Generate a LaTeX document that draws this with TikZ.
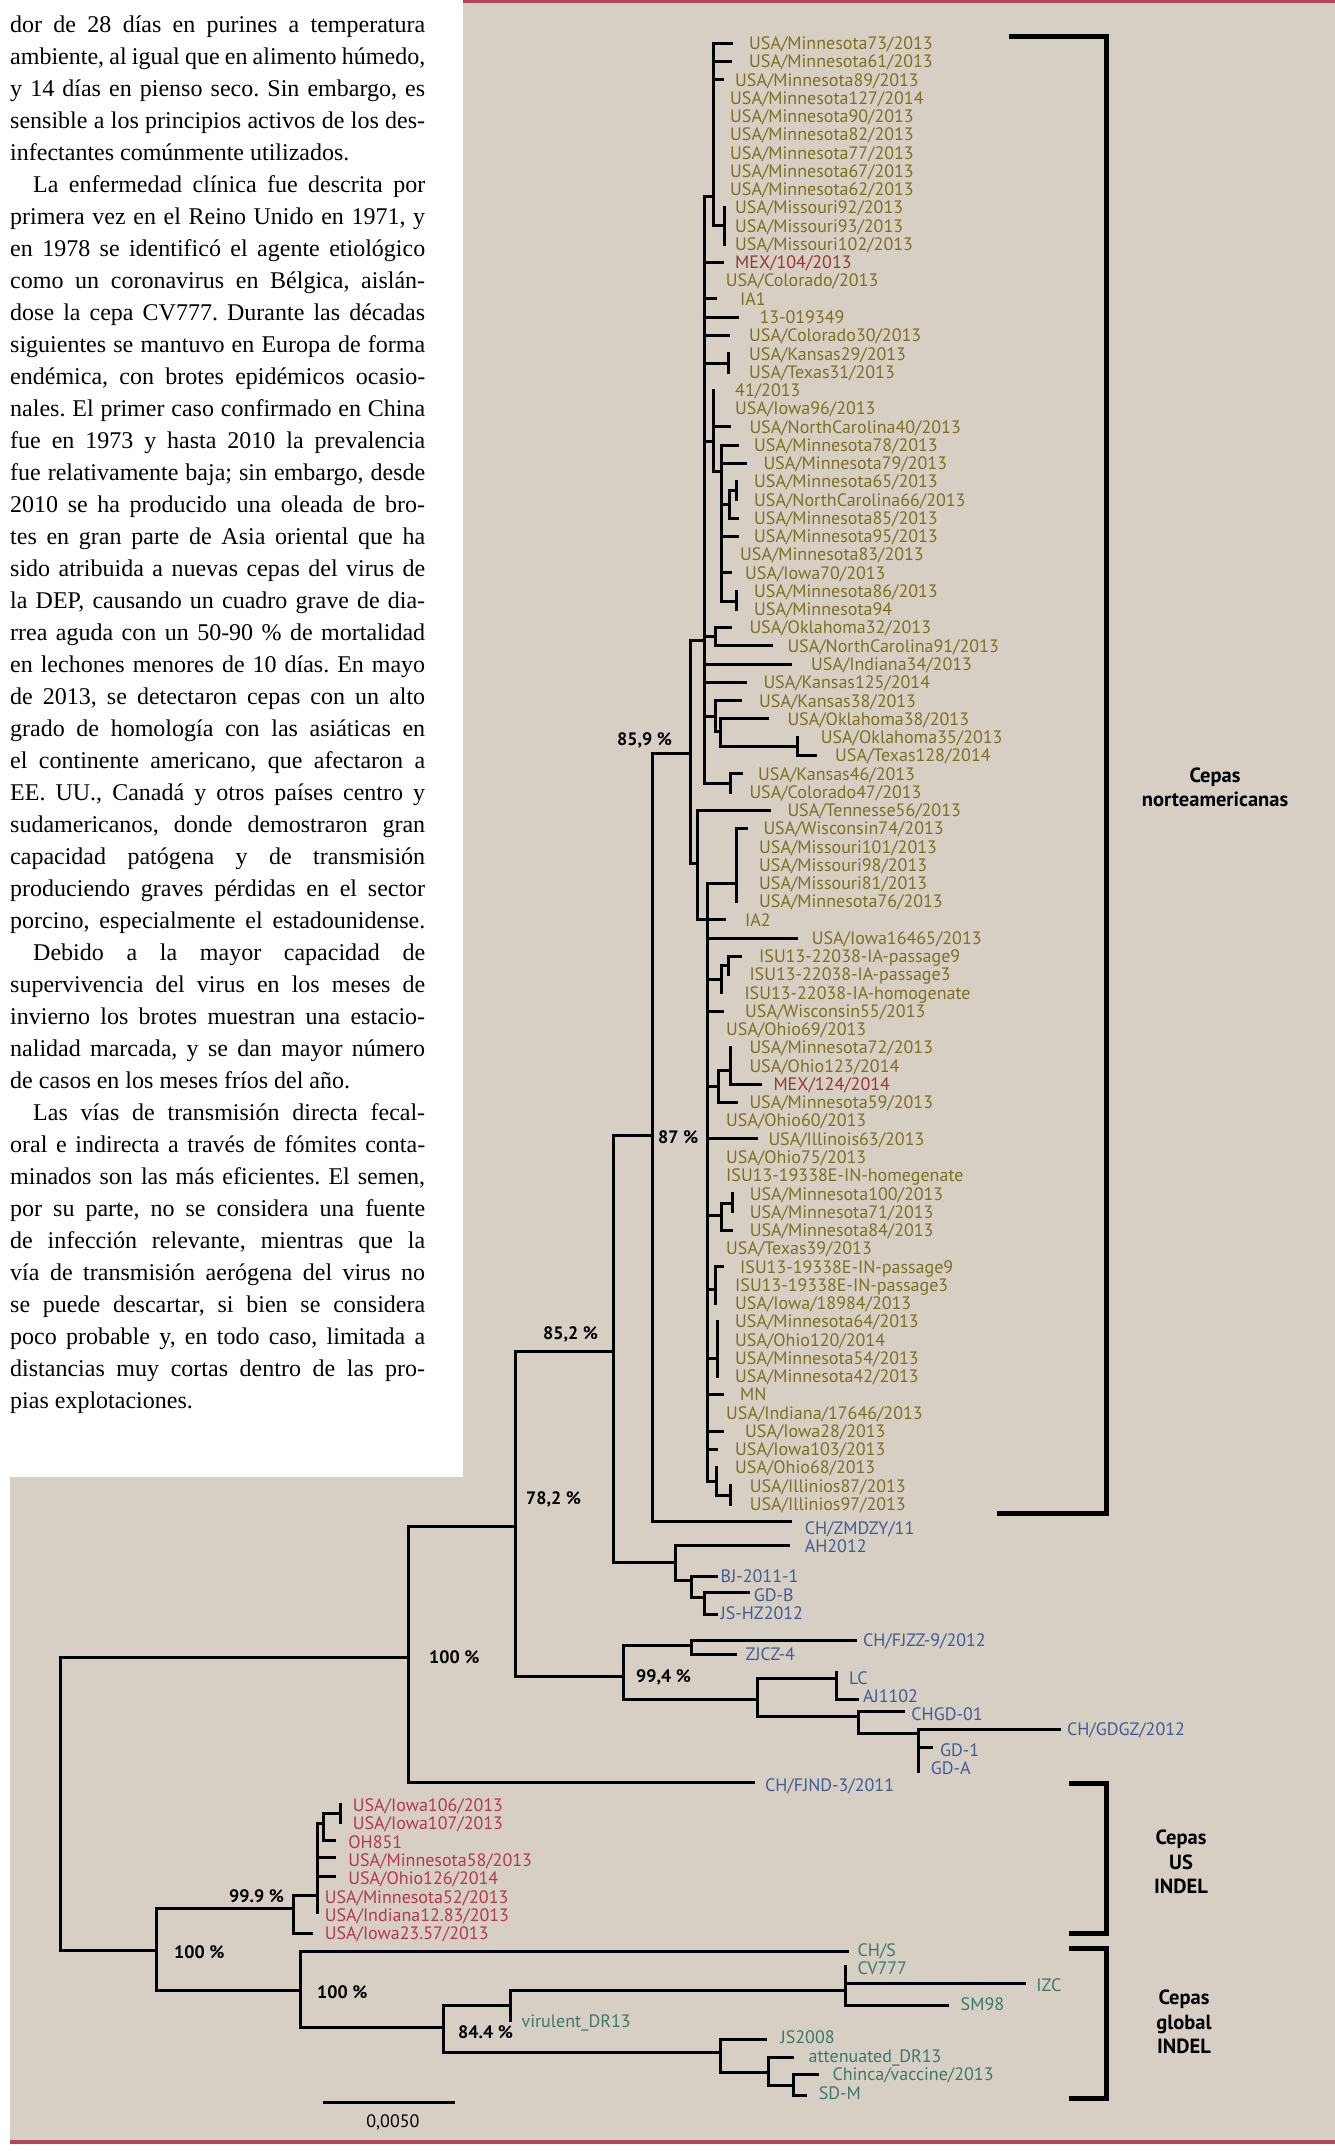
\documentclass[tikz,border=0pt]{standalone}
\usepackage{fontspec}
\setmainfont{PT Sans}
\newfontfamily\bodyserif{Liberation Serif}
\frenchspacing
\definecolor{beige}{RGB}{216,207,196}
\definecolor{redline}{RGB}{180,70,85}
\definecolor{olivetxt}{RGB}{121,113,32}
\definecolor{mexred}{RGB}{150,55,50}
\definecolor{bluetxt}{RGB}{62,92,150}
\definecolor{pinktxt}{RGB}{180,55,80}
\definecolor{tealtxt}{RGB}{60,120,105}
\tikzset{
  br/.style={line width=3pt, line cap=rect},
  brk/.style={line width=5pt, line join=miter},
  leaf/.style={anchor=base west, inner sep=0pt, font=\fontsize{18}{20}\selectfont},
  lo/.style={text=olivetxt}, lr/.style={text=mexred}, lb/.style={text=bluetxt},
  lp/.style={text=pinktxt}, lt/.style={text=tealtxt},
  pct/.style={anchor=base west, inner sep=0pt, font=\bfseries\fontsize{18}{20}\selectfont},
  grp/.style={align=center, inner sep=0pt, font=\bfseries\fontsize{20.5}{24.5}\selectfont},
  serif/.style={anchor=base west, inner sep=0pt, font=\bodyserif\fontsize{24}{32}\selectfont},
}
\newcommand\lf[5][lo]{\node[leaf,#1] (#4) at (#2,#3+6.3) {#5};}
\newcommand\txl[2]{\node[serif] (t#1) at (10,{32.5+32*(#1-1)}) {\makebox[415pt][s]{#2}};}
\newcommand\txi[2]{\node[serif] (t#1) at (33,{32.5+32*(#1-1)}) {\makebox[392pt][s]{#2}};}
\newcommand\txn[2]{\node[serif] (t#1) at (10,{32.5+32*(#1-1)}) {#2};}
\begin{document}
\begin{tikzpicture}[x=1pt,y=-1pt]
\useasboundingbox (0,0) rectangle (1335,2151);
\fill[white] (0,0) rectangle (1335,2151);
\fill[beige] (463,0) -- (1335,0) -- (1335,2141) -- (10,2141) -- (10,1477) -- (463,1477) -- cycle;
\fill[redline] (463,0) rectangle (1335,3);
\fill[redline] (10,2140) rectangle (1335,2144);

% ---------------- text column ----------------
\txl{1}{dor de 28 días en purines a temperatura}
\txl{2}{ambiente, al igual que en alimento húmedo,}
\txl{3}{y 14 días en pienso seco. Sin embargo, es}
\txl{4}{sensible a los principios activos de los des-}
\txn{5}{infectantes comúnmente utilizados.}
\txi{6}{La enfermedad clínica fue descrita por}
\txl{7}{primera vez en el Reino Unido en 1971, y}
\txl{8}{en 1978 se identificó el agente etiológico}
\txl{9}{como un coronavirus en Bélgica, aislán-}
\txl{10}{dose la cepa CV777. Durante las décadas}
\txl{11}{siguientes se mantuvo en Europa de forma}
\txl{12}{endémica, con brotes epidémicos ocasio-}
\txl{13}{nales. El primer caso confirmado en China}
\txl{14}{fue en 1973 y hasta 2010 la prevalencia}
\txl{15}{fue relativamente baja; sin embargo, desde}
\txl{16}{2010 se ha producido una oleada de bro-}
\txl{17}{tes en gran parte de Asia oriental que ha}
\txl{18}{sido atribuida a nuevas cepas del virus de}
\txl{19}{la DEP, causando un cuadro grave de dia-}
\txl{20}{rrea aguda con un 50-90 \% de mortalidad}
\txl{21}{en lechones menores de 10 días. En mayo}
\txl{22}{de 2013, se detectaron cepas con un alto}
\txl{23}{grado de homología con las asiáticas en}
\txl{24}{el continente americano, que afectaron a}
\txl{25}{EE. UU., Canadá y otros países centro y}
\txl{26}{sudamericanos, donde demostraron gran}
\txl{27}{capacidad patógena y de transmisión}
\txl{28}{produciendo graves pérdidas en el sector}
\txl{29}{porcino, especialmente el estadounidense.}
\txi{30}{Debido a la mayor capacidad de}
\txl{31}{supervivencia del virus en los meses de}
\txl{32}{invierno los brotes muestran una estacio-}
\txl{33}{nalidad marcada, y se dan mayor número}
\txn{34}{de casos en los meses fríos del año.}
\txi{35}{Las vías de transmisión directa fecal-}
\txl{36}{oral e indirecta a través de fómites conta-}
\txl{37}{minados son las más eficientes. El semen,}
\txl{38}{por su parte, no se considera una fuente}
\txl{39}{de infección relevante, mientras que la}
\txl{40}{vía de transmisión aerógena del virus no}
\txl{41}{se puede descartar, si bien se considera}
\txl{42}{poco probable y, en todo caso, limitada a}
\txl{43}{distancias muy cortas dentro de las pro-}
\txn{44}{pias explotaciones.}

% ---------------- tree branches ----------------
\draw[br]
 (713.3,43.3)--(713.3,225.9) (713.3,43.3)--(731.7,43.3) (713.3,61.6)--(730,61.6)
 (713.3,79.8)--(722.3,79.8) (713.3,225.9)--(724.3,225.9) (724.3,207.6)--(724.3,244.2)
 (704.3,196.7)--(713.3,196.7)
 (704.3,196.7)--(704.3,783.3)
 (704.3,262.4)--(722.3,262.4) (704.3,298.9)--(715.7,298.9) (704.3,317.2)--(737.3,317.2)
 (704.3,335.5)--(728.3,335.5) (704.3,363)--(728.3,363) (728.3,353.7)--(728.3,372.0)
 (704.3,441.7)--(713.3,441.7) (713.3,390.2)--(713.3,471.7) (713.3,426.8)--(729,426.8)
 (713.3,471.7)--(721.7,471.7) (721.7,445)--(721.7,601.7)
 (721.7,445)--(737.3,445) (721.7,463.3)--(745,463.3)
 (721.7,504)--(729.3,504) (729.3,490)--(729.3,518.1) (729.3,518.1)--(737.7,518.1)
 (729.3,490)--(736.7,490) (736.7,481.5)--(736.7,499.8)
 (721.7,536.3)--(737.3,536.3) (721.7,572.8)--(730,572.8)
 (721.7,601.7)--(736.7,601.7) (736.7,591.1)--(736.7,609.4)
 (704.3,636.7)--(715,636.7) (715,627.6)--(715,645.9) (715,627.6)--(730.7,627.6) (715,645.9)--(771.7,645.9)
 (704.3,664.1)--(790.7,664.1) (704.3,682.4)--(745,682.4)
 (704.3,716.7)--(715,716.7) (715,700.7)--(715,731.7) (715,700.7)--(740.7,700.7)
 (715,731.7)--(720.3,731.7) (720.3,718.9)--(720.3,746.7) (720.3,718.9)--(767.7,718.9)
 (720.3,746.7)--(797.7,746.7) (797.7,737.2)--(797.7,755.4) (797.7,755.4)--(815,755.4)
 (704.3,783.3)--(730,783.3) (730,773.7)--(730,792.0) (730,773.7)--(741.7,773.7)
 (690,640)--(690,863.3) (690,640)--(704.3,640) (690,863.3)--(697.7,863.3)
 (697.7,810.2)--(697.7,919.8) (697.7,810.2)--(769.3,810.2) (697.7,919.8)--(724,919.8)
 (707.7,883.3)--(707.7,1481)
 (707.7,883.3)--(736,883.3) (736,828.5)--(736,901.5) (736,828.5)--(746,828.5)
 (707.7,938)--(796,938)
 (707.7,979)--(721.7,979) (721.7,965)--(721.7,992.8) (721.7,965)--(728.3,965)
 (728.3,956.3)--(728.3,974.6) (728.3,956.3)--(740,956.3)
 (707.7,1011.1)--(722.7,1011.1)
 (707.7,1086)--(718.3,1086) (718.3,1070)--(718.3,1102.4) (718.3,1070)--(730.7,1070)
 (730.7,1047.6)--(730.7,1084.1) (730.7,1084.1)--(760,1084.1) (718.3,1102.4)--(736,1102.4)
 (707.7,1138.9)--(756,1138.9)
 (707.7,1215)--(721.7,1215) (721.7,1203.3)--(721.7,1230.2) (721.7,1203.3)--(732.7,1203.3)
 (732.7,1193.7)--(732.7,1211.9) (721.7,1230.2)--(731.7,1230.2)
 (707.7,1289.3)--(715,1289.3) (715,1266.7)--(715,1303.2) (715,1266.7)--(722.7,1266.7)
 (707.7,1358.3)--(717.3,1358.3) (717.3,1321.5)--(717.3,1376.3)
 (707.7,1394.5)--(722.7,1394.5) (707.7,1431.1)--(722.7,1431.1) (707.7,1449.3)--(716,1449.3)
 (707.7,1481)--(716,1481) (716,1467.6)--(716,1495) (716,1495)--(730,1495) (730,1485.8)--(730,1504.1)
 % deeper nodes
 (652,753)--(652,1521.7) (652,753)--(690,753) (652,1521.7)--(790.5,1521.7)
 (613.3,1135)--(613.3,1562.3) (613.3,1135)--(652,1135) (613.3,1562.3)--(675.5,1562.3)
 (675.5,1545.7)--(675.5,1580) (675.5,1545.7)--(788.8,1545.7) (675.5,1580)--(691.8,1580)
 (691.8,1576)--(691.8,1597.7) (691.8,1576)--(716.3,1576) (691.8,1597.7)--(704.6,1597.7)
 (704.6,1592.7)--(704.6,1614.3) (704.6,1592.7)--(748.5,1592.7) (704.6,1614.3)--(716.3,1614.3)
 (515.3,1351.7)--(515.3,1676.7) (515.3,1351.7)--(613.3,1351.7) (515.3,1676.7)--(623.5,1676.7)
 (623.5,1645.7)--(623.5,1699.3) (623.5,1645.7)--(691.8,1645.7)
 (691.8,1640)--(691.8,1654) (691.8,1640)--(855.6,1640) (691.8,1654)--(735.7,1654)
 (623.5,1699.3)--(757.1,1699.3) (757.1,1678.3)--(757.1,1716) (757.1,1678.3)--(836.2,1678.3)
 (836.2,1672.3)--(836.2,1699.3) (836.2,1699.3)--(857.7,1699.3)
 (757.1,1716)--(858.2,1716) (858.2,1711.7)--(858.2,1733.3) (858.2,1711.7)--(903.6,1711.7)
 (858.2,1733.3)--(918.9,1733.3) (918.9,1729.3)--(918.9,1771.7)
 (918.9,1729.3)--(1059.7,1729.3) (918.9,1747.7)--(931.6,1747.7)
 (408.7,1526)--(408.7,1782.3) (408.7,1526)--(515.3,1526) (408.7,1782.3)--(753,1782.3)
 (60.3,1657)--(408.7,1657) (60.3,1657)--(60.3,1950.7) (60.3,1950.7)--(156.3,1950.7)
 (156.3,1908.3)--(156.3,1990) (156.3,1908.3)--(293.3,1908.3) (156.3,1990)--(300,1990)
 (293.3,1895)--(293.3,1933.3) (293.3,1895)--(317,1895) (293.3,1933.3)--(311.2,1933.3)
 (317,1823.3)--(317,1912.7) (317,1823.3)--(323.7,1823.3) (323.7,1813.3)--(323.7,1840.7)
 (323.7,1813.3)--(340.2,1813.3) (340.2,1804)--(340.2,1822) (323.7,1840.7)--(334,1840.7)
 (317,1857.3)--(334,1857.3) (317,1876.7)--(334,1876.7)
 (300,1951.7)--(300,2027.7) (300,1951.7)--(847.2,1951.7) (300,2027.7)--(443.3,2027.7)
 (443.3,2005)--(443.3,2052.7) (443.3,2005)--(510.3,2005) (510.3,1990)--(510.3,2020.7)
 (510.3,1990)--(845.4,1990) (845.4,1966.7)--(845.4,2005)
 (845.4,1983.3)--(1024.3,1983.3) (845.4,2005)--(947.4,2005)
 (443.3,2052.7)--(720.2,2052.7) (720.2,2039)--(720.2,2072.7) (720.2,2039)--(765,2039)
 (720.2,2072.7)--(768.5,2072.7) (768.5,2057.3)--(768.5,2085.7) (768.5,2057.3)--(792.4,2057.3)
 (768.5,2085.7)--(793.6,2085.7) (793.6,2074)--(793.6,2095) (793.6,2074)--(817.4,2074)
 (793.6,2095)--(805.5,2095);

% scale bar
\draw[br] (324.6,2102.3) -- (453.1,2102.3);
\node[anchor=base, inner sep=0pt, font=\fontsize{18}{20}\selectfont] (scale) at (392.9,2127) {0,0050};

% ---------------- leaves ----------------
\lf{749}{43.3}{l1}{USA/Minnesota73/2013}
\lf{749}{61.6}{l2}{USA/Minnesota61/2013}
\lf{735}{79.8}{l3}{USA/Minnesota89/2013}
\lf{730}{98.1}{l4}{USA/Minnesota127/2014}
\lf{730}{116.3}{l5}{USA/Minnesota90/2013}
\lf{730}{134.6}{l6}{USA/Minnesota82/2013}
\lf{730}{152.9}{l7}{USA/Minnesota77/2013}
\lf{730}{171.1}{l8}{USA/Minnesota67/2013}
\lf{730}{189.4}{l9}{USA/Minnesota62/2013}
\lf{735}{207.6}{l10}{USA/Missouri92/2013}
\lf{735}{225.9}{l11}{USA/Missouri93/2013}
\lf{735}{244.2}{l12}{USA/Missouri102/2013}
\lf[lr]{735}{262.4}{l13}{MEX/104/2013}
\lf{725.7}{280.7}{l14}{USA/Colorado/2013}
\lf{740}{298.9}{l15}{IA1}
\lf{759.3}{317.2}{l16}{13-019349}
\lf{749}{335.5}{l17}{USA/Colorado30/2013}
\lf{749}{353.7}{l18}{USA/Kansas29/2013}
\lf{749}{372.0}{l19}{USA/Texas31/2013}
\lf{735}{390.2}{l20}{41/2013}
\lf{735}{408.5}{l21}{USA/Iowa96/2013}
\lf{749.3}{426.8}{l22}{USA/NorthCarolina40/2013}
\lf{754}{445.0}{l23}{USA/Minnesota78/2013}
\lf{763.3}{463.3}{l24}{USA/Minnesota79/2013}
\lf{754}{481.5}{l25}{USA/Minnesota65/2013}
\lf{754}{499.8}{l26}{USA/NorthCarolina66/2013}
\lf{754}{518.1}{l27}{USA/Minnesota85/2013}
\lf{754}{536.3}{l28}{USA/Minnesota95/2013}
\lf{740}{554.6}{l29}{USA/Minnesota83/2013}
\lf{745}{572.8}{l30}{USA/Iowa70/2013}
\lf{754}{591.1}{l31}{USA/Minnesota86/2013}
\lf{754}{609.4}{l32}{USA/Minnesota94}
\lf{749.3}{627.6}{l33}{USA/Oklahoma32/2013}
\lf{787.3}{645.9}{l34}{USA/NorthCarolina91/2013}
\lf{811}{664.1}{l35}{USA/Indiana34/2013}
\lf{763.3}{682.4}{l36}{USA/Kansas125/2014}
\lf{759}{700.7}{l37}{USA/Kansas38/2013}
\lf{787.3}{718.9}{l38}{USA/Oklahoma38/2013}
\lf{820.7}{737.2}{l39}{USA/Oklahoma35/2013}
\lf{835}{755.4}{l40}{USA/Texas128/2014}
\lf{758}{773.7}{l41}{USA/Kansas46/2013}
\lf{749.3}{792.0}{l42}{USA/Colorado47/2013}
\lf{787.3}{810.2}{l43}{USA/Tennesse56/2013}
\lf{763.3}{828.5}{l44}{USA/Wisconsin74/2013}
\lf{759}{846.7}{l45}{USA/Missouri101/2013}
\lf{759}{865.0}{l46}{USA/Missouri98/2013}
\lf{759}{883.3}{l47}{USA/Missouri81/2013}
\lf{759}{901.5}{l48}{USA/Minnesota76/2013}
\lf{745}{919.8}{l49}{IA2}
\lf{811.7}{938.0}{l50}{USA/Iowa16465/2013}
\lf{759}{956.3}{l51}{ISU13-22038-IA-passage9}
\lf{749.3}{974.6}{l52}{ISU13-22038-IA-passage3}
\lf{744.3}{992.8}{l53}{ISU13-22038-IA-homogenate}
\lf{745}{1011.1}{l54}{USA/Wisconsin55/2013}
\lf{726}{1029.3}{l55}{USA/Ohio69/2013}
\lf{749.3}{1047.6}{l56}{USA/Minnesota72/2013}
\lf{749.3}{1065.9}{l57}{USA/Ohio123/2014}
\lf[lr]{773.3}{1084.1}{l58}{MEX/124/2014}
\lf{749.3}{1102.4}{l59}{USA/Minnesota59/2013}
\lf{726}{1120.6}{l60}{USA/Ohio60/2013}
\lf{768.3}{1138.9}{l61}{USA/Illinois63/2013}
\lf{726}{1157.2}{l62}{USA/Ohio75/2013}
\lf{726}{1175.4}{l63}{ISU13-19338E-IN-homegenate}
\lf{749.7}{1193.7}{l64}{USA/Minnesota100/2013}
\lf{749.7}{1211.9}{l65}{USA/Minnesota71/2013}
\lf{749.7}{1230.2}{l66}{USA/Minnesota84/2013}
\lf{726}{1248.5}{l67}{USA/Texas39/2013}
\lf{740}{1266.7}{l68}{ISU13-19338E-IN-passage9}
\lf{735}{1285.0}{l69}{ISU13-19338E-IN-passage3}
\lf{735}{1303.2}{l70}{USA/Iowa/18984/2013}
\lf{735}{1321.5}{l71}{USA/Minnesota64/2013}
\lf{735}{1339.8}{l72}{USA/Ohio120/2014}
\lf{735}{1358.0}{l73}{USA/Minnesota54/2013}
\lf{735}{1376.3}{l74}{USA/Minnesota42/2013}
\lf{740}{1394.5}{l75}{MN}
\lf{726}{1412.8}{l76}{USA/Indiana/17646/2013}
\lf{745}{1431.1}{l77}{USA/Iowa28/2013}
\lf{735}{1449.3}{l78}{USA/Iowa103/2013}
\lf{735}{1467.6}{l79}{USA/Ohio68/2013}
\lf{749.7}{1485.8}{l80}{USA/Illinios87/2013}
\lf{749.7}{1504.1}{l81}{USA/Illinios97/2013}
\lf[lb]{804.6}{1528}{l82}{CH/ZMDZY/11}
\lf[lb]{804.6}{1545.7}{l83}{AH2012}
\lf[lb]{720.4}{1576}{l84}{BJ-2011-1}
\lf[lb]{753.6}{1595}{l85}{GD-B}
\lf[lb]{720.4}{1612.7}{l86}{JS-HZ2012}
\lf[lb]{862.8}{1640}{l87}{CH/FJZZ-9/2012}
\lf[lb]{745.4}{1654}{l88}{ZJCZ-4}
\lf[lb]{849}{1678}{l89}{LC}
\lf[lb]{862.8}{1696}{l90}{AJ1102}
\lf[lb]{911.2}{1713.7}{l91}{CHGD-01}
\lf[lb]{1066.8}{1729.3}{l92}{CH/GDGZ/2012}
\lf[lb]{939.8}{1750}{l93}{GD-1}
\lf[lb]{930.6}{1767.7}{l94}{GD-A}
\lf[lb]{764.8}{1785}{l95}{CH/FJND-3/2011}
\lf[lp]{352.7}{1805}{l96}{USA/Iowa106/2013}
\lf[lp]{352.7}{1823.3}{l97}{USA/Iowa107/2013}
\lf[lp]{348.2}{1841.7}{l98}{OH851}
\lf[lp]{348.2}{1860}{l99}{USA/Minnesota58/2013}
\lf[lp]{348.2}{1877.7}{l100}{USA/Ohio126/2014}
\lf[lp]{324.6}{1896.7}{l101}{USA/Minnesota52/2013}
\lf[lp]{324.6}{1915}{l102}{USA/Indiana12.83/2013}
\lf[lp]{324.6}{1933.3}{l103}{USA/Iowa23.57/2013}
\lf[lt]{857.4}{1950}{l104}{CH/S}
\lf[lt]{857.4}{1967.7}{l105}{CV777}
\lf[lt]{1036.2}{1985}{l106}{IZC}
\lf[lt]{960.5}{2004}{l107}{SM98}
\lf[lt]{521.4}{2020.7}{l108}{virulent\_DR13}
\lf[lt]{780.4}{2037.3}{l109}{JS2008}
\lf[lt]{808.5}{2056}{l110}{attenuated\_DR13}
\lf[lt]{832.3}{2073.7}{l111}{Chinca/vaccine/2013}
\lf[lt]{818.6}{2092.7}{l112}{SD-M}

% ---------------- bootstrap values ----------------
\node[pct] (p859) at (617,745.3) {85,9 \%};
\node[pct] (p87)  at (658,1143.3) {87 \%};
\node[pct] (p852) at (543,1339.3) {85,2 \%};
\node[pct] (p782) at (526,1504.3) {78,2 \%};
\node[pct] (p100a) at (429,1663.3) {100 \%};
\node[pct] (p994) at (636,1682.3) {99,4 \%};
\node[pct] (p999) at (229,1902.3) {99.9 \%};
\node[pct] (p100b) at (174,1958.3) {100 \%};
\node[pct] (p100c) at (317,1998.3) {100 \%};
\node[pct] (p844) at (458,2038.3) {84.4 \%};

% ---------------- brackets ----------------
\draw[brk] (1008.5,37) -- (1106.5,37) -- (1106.5,1513.3) -- (996.7,1513.3);
\draw[brk] (1069,1783) -- (1106.5,1783) -- (1106.5,1933.3) -- (1069,1933.3);
\draw[brk] (1069,1948) -- (1106.5,1948) -- (1106.5,2098.3) -- (1069,2098.3);
\node[grp] (gNA) at (1215,787.5) {Cepas\\norteamericanas};
\node[grp] (gUS) at (1181,1862) {Cepas\\US\\INDEL};
\node[grp] (gGL) at (1184,2022) {Cepas\\global\\INDEL};
\end{tikzpicture}
\end{document}
